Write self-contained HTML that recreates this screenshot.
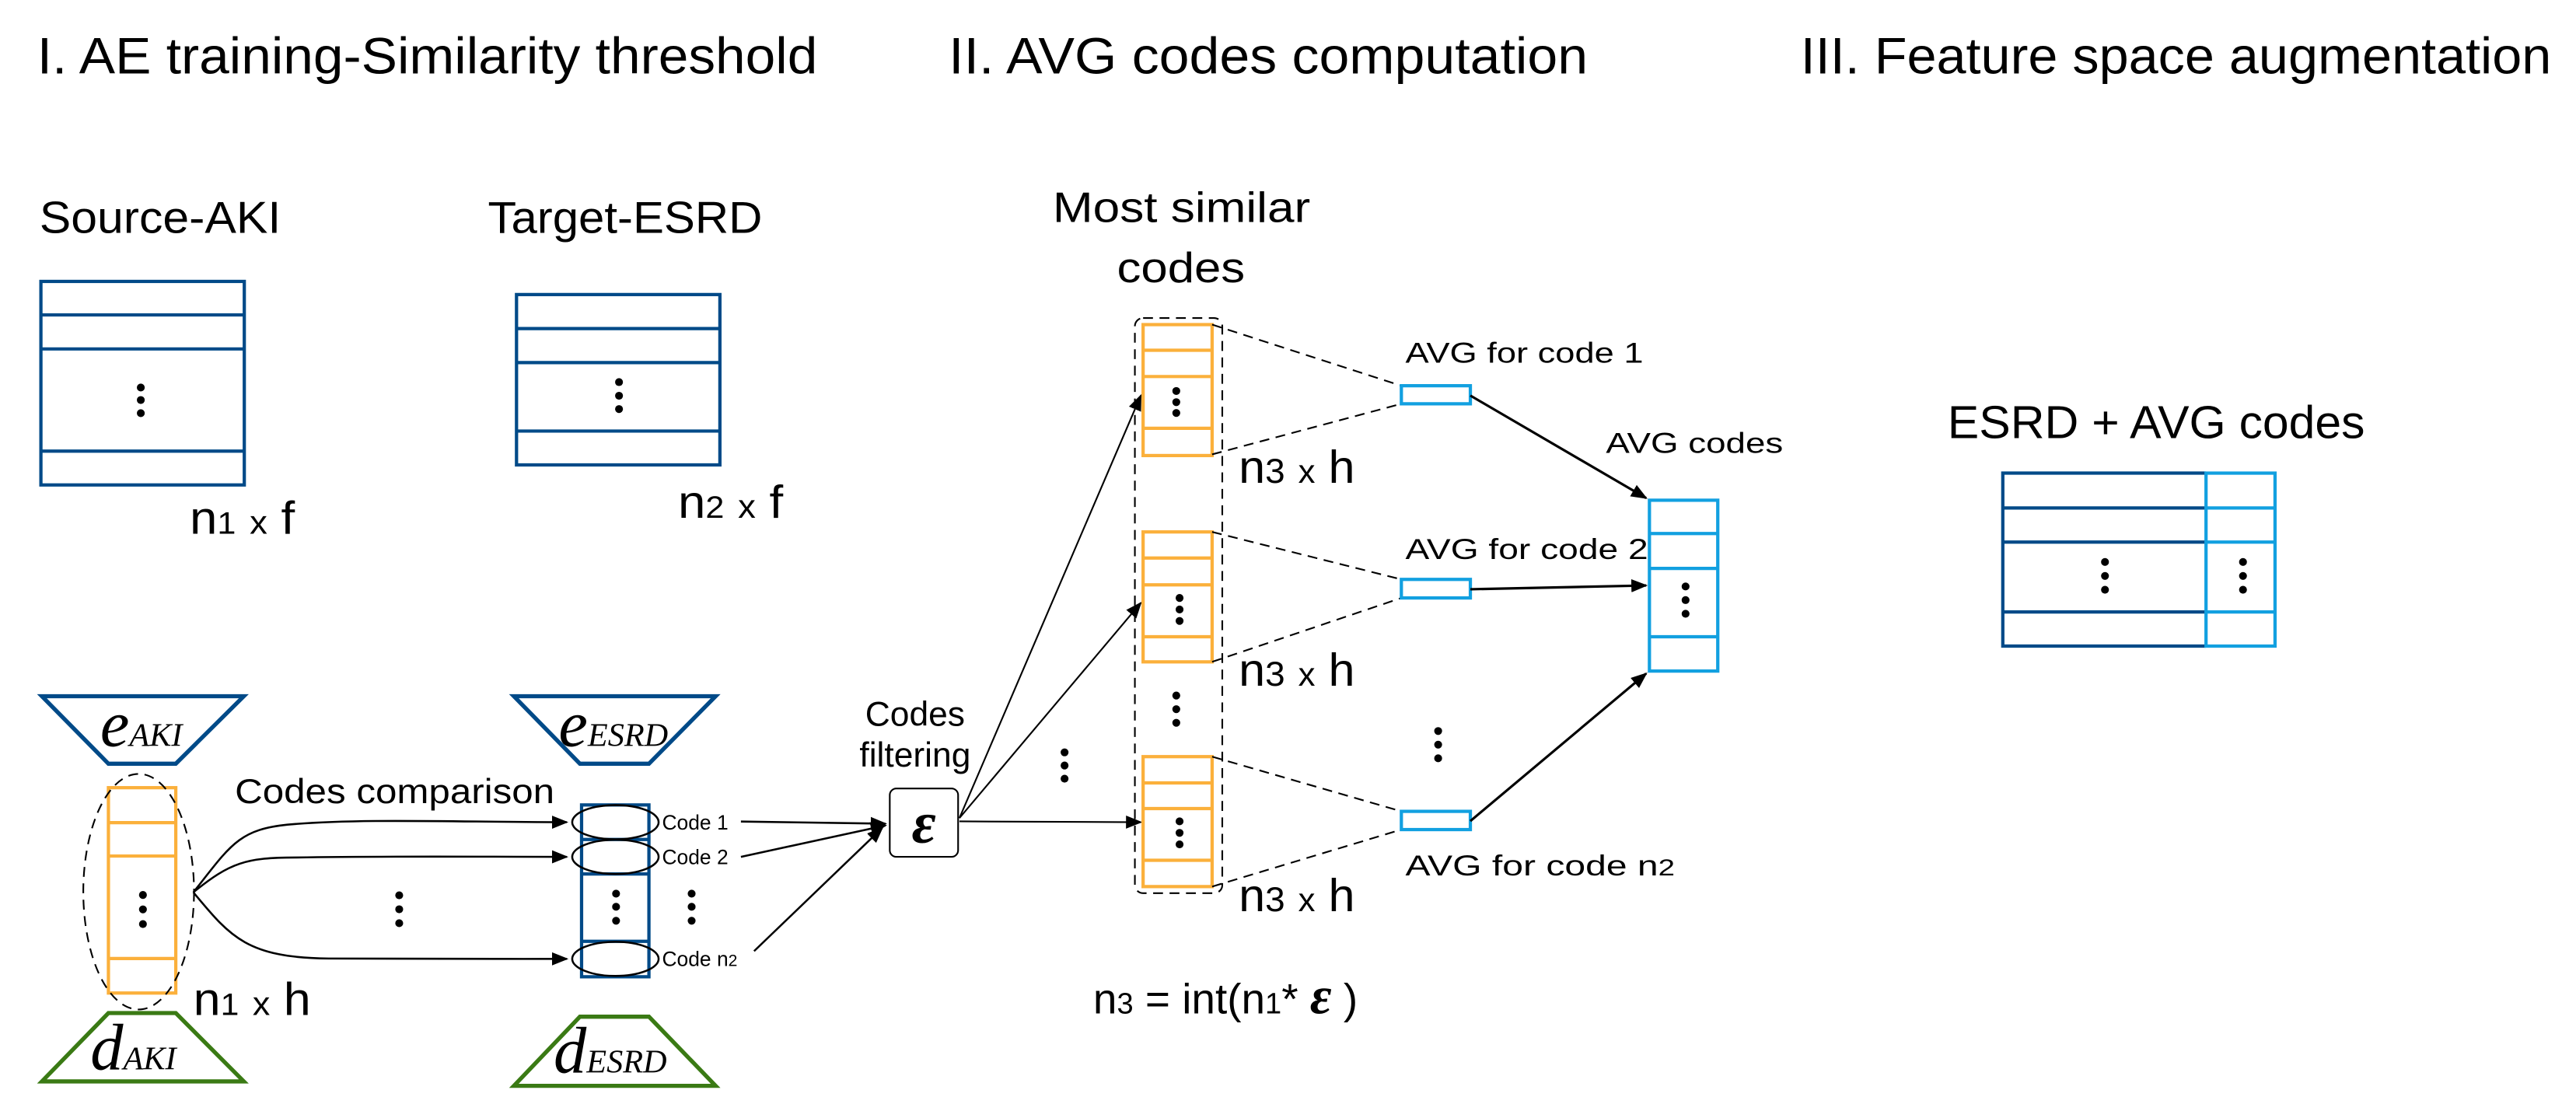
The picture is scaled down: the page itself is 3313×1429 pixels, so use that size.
<!DOCTYPE html>
<html><head><meta charset="utf-8"><style>html,body{margin:0;padding:0;background:#fff;}svg{display:block}</style></head>
<body>
<svg xmlns="http://www.w3.org/2000/svg" width="3313" height="1429" viewBox="0 0 1568 676.3" font-family="'Liberation Sans', sans-serif">
<defs>
<marker id="ah" markerWidth="10" markerHeight="8" refX="9" refY="4" orient="auto" markerUnits="userSpaceOnUse"><path d="M0,0 L10,4 L0,8 z" fill="#000"/></marker>
</defs>
<rect width="1568" height="676.3" fill="#fff"/>
<!-- titles -->
<text x="22.6" y="44.6" font-size="31" textLength="475" lengthAdjust="spacingAndGlyphs">I. AE training-Similarity threshold</text>
<text x="577.5" y="44.6" font-size="31" textLength="389" lengthAdjust="spacingAndGlyphs">II. AVG codes computation</text>
<text x="1096" y="44.6" font-size="31" textLength="457" lengthAdjust="spacingAndGlyphs">III. Feature space augmentation</text>

<text x="24" y="141.7" font-size="27" textLength="147" lengthAdjust="spacingAndGlyphs">Source-AKI</text>
<text x="297" y="141.7" font-size="27" textLength="167" lengthAdjust="spacingAndGlyphs">Target-ESRD</text>

<g fill="none" stroke="#004a88" stroke-width="2">
<rect x="24.9" y="171.3" width="123.8" height="123.9"/>
<line x1="24.9" y1="191.7" x2="148.7" y2="191.7"/><line x1="24.9" y1="212.4" x2="148.7" y2="212.4"/><line x1="24.9" y1="274.6" x2="148.7" y2="274.6"/>
<rect x="314.4" y="179.3" width="123.8" height="103.7"/>
<line x1="314.4" y1="200" x2="438.2" y2="200"/><line x1="314.4" y1="220.7" x2="438.2" y2="220.7"/><line x1="314.4" y1="262.4" x2="438.2" y2="262.4"/>
</g>
<g fill="#000">
<circle cx="85.7" cy="235.9" r="2.4"/><circle cx="85.7" cy="243.5" r="2.4"/><circle cx="85.7" cy="251.5" r="2.4"/>
<circle cx="376.8" cy="232.6" r="2.4"/><circle cx="376.8" cy="240.9" r="2.4"/><circle cx="376.8" cy="249" r="2.4"/>
</g>
<text x="115.5" y="325" font-size="28" textLength="64" lengthAdjust="spacingAndGlyphs">n<tspan font-size="19">1</tspan> <tspan font-size="20">x</tspan> f</text>
<text x="412.7" y="315.2" font-size="28" textLength="64" lengthAdjust="spacingAndGlyphs">n<tspan font-size="19">2</tspan> <tspan font-size="20">x</tspan> f</text>

<!-- encoders / decoders -->
<g fill="none" stroke-width="2.5">
<polygon points="25.5,423.8 148.4,423.8 107,464.9 66,464.9" stroke="#004a88"/>
<polygon points="312.8,423.8 435.6,423.8 395,464.9 353,464.9" stroke="#004a88"/>
<polygon points="66,616.7 107,616.7 148.4,658.3 25.5,658.3" stroke="#3a7a14"/>
<polygon points="353,618.9 395,618.9 435.6,661 312.8,661" stroke="#3a7a14"/>
</g>
<g font-family="'Liberation Serif', serif" font-style="italic">
<text x="61" y="454" font-size="40">e<tspan font-size="20">AKI</tspan></text>
<text x="340" y="454" font-size="40">e<tspan font-size="20">ESRD</tspan></text>
<text x="55" y="651" font-size="40">d<tspan font-size="20">AKI</tspan></text>
<text x="337" y="653" font-size="40">d<tspan font-size="20">ESRD</tspan></text>
</g>

<!-- AKI column -->
<g fill="none" stroke="#fbb03b" stroke-width="2">
<rect x="66" y="479.5" width="41" height="125"/>
<line x1="66" y1="500.8" x2="107" y2="500.8"/><line x1="66" y1="521.1" x2="107" y2="521.1"/><line x1="66" y1="583.5" x2="107" y2="583.5"/>
</g>
<ellipse cx="84.4" cy="542.8" rx="33.7" ry="71.7" fill="none" stroke="#000" stroke-width="1" stroke-dasharray="6,4"/>
<g fill="#000"><circle cx="87" cy="544.8" r="2.4"/><circle cx="87" cy="553.6" r="2.4"/><circle cx="87" cy="562.5" r="2.4"/></g>
<text x="117.7" y="617.8" font-size="28" textLength="71.5" lengthAdjust="spacingAndGlyphs">n<tspan font-size="19">1</tspan> <tspan font-size="20">x</tspan> h</text>
<text x="143" y="488.8" font-size="21" textLength="194.5" lengthAdjust="spacingAndGlyphs">Codes comparison</text>

<!-- ESRD column -->
<g fill="none" stroke="#004a88" stroke-width="2">
<rect x="354" y="490" width="41" height="104.6"/>
<line x1="354" y1="511" x2="395" y2="511"/><line x1="354" y1="532" x2="395" y2="532"/><line x1="354" y1="573" x2="395" y2="573"/>
</g>
<g fill="none" stroke="#000" stroke-width="1.2">
<ellipse cx="374.6" cy="500.5" rx="26.3" ry="10.4"/>
<ellipse cx="374.6" cy="521.6" rx="26.3" ry="10.4"/>
<ellipse cx="374.6" cy="583.7" rx="26.3" ry="10.4"/>
</g>
<g fill="#000">
<circle cx="375" cy="544" r="2.4"/><circle cx="375" cy="552" r="2.4"/><circle cx="375" cy="560.5" r="2.4"/>
<circle cx="421" cy="544" r="2.4"/><circle cx="421" cy="552" r="2.4"/><circle cx="421" cy="560.5" r="2.4"/>
<circle cx="243" cy="545" r="2.4"/><circle cx="243" cy="553.5" r="2.4"/><circle cx="243" cy="562" r="2.4"/>
</g>
<g fill="none" stroke="#000" stroke-width="1.2" marker-end="url(#ah)">
<path d="M117.7,543.2 C140,515 145,505 175,502 C220,498 280,500.5 345,500.5"/>
<path d="M117.7,543.2 C140,525 150,522 180,522 C240,521 290,521.6 345,521.6"/>
<path d="M117.7,543.2 C140,570 150,583 200,583.5 C260,584 300,583.7 345,583.7"/>
<line x1="451" y1="500.1" x2="539" y2="501.4"/>
<line x1="451" y1="521.6" x2="539" y2="502.5"/>
<line x1="459" y1="579" x2="537" y2="504"/>
</g>
<text x="403" y="505" font-size="12.5">Code 1</text>
<text x="403" y="526" font-size="12.5">Code 2</text>
<text x="403" y="588" font-size="12.5">Code n<tspan font-size="10">2</tspan></text>

<!-- epsilon -->
<rect x="541.6" y="480" width="41.6" height="41.6" rx="4" fill="#fff" stroke="#000" stroke-width="1"/>
<text x="562.4" y="513" font-size="36" text-anchor="middle" font-family="'Liberation Serif', serif" font-style="italic" font-weight="bold">ε</text>
<text x="557" y="441.9" font-size="21" text-anchor="middle">Codes</text>
<text x="557" y="466.7" font-size="21" text-anchor="middle">filtering</text>
<g fill="none" stroke="#000" stroke-width="1" marker-end="url(#ah)">
<line x1="584" y1="498" x2="694.4" y2="240.8"/>
<line x1="584" y1="498" x2="694.4" y2="367"/>
<line x1="584" y1="500" x2="694.4" y2="500.5"/>
</g>
<g fill="#000"><circle cx="648" cy="458" r="2.4"/><circle cx="648" cy="466" r="2.4"/><circle cx="648" cy="474" r="2.4"/></g>

<!-- most similar codes -->
<text x="640.8" y="135" font-size="26" textLength="156.8" lengthAdjust="spacingAndGlyphs">Most similar</text>
<text x="679.9" y="171.7" font-size="26" textLength="77.9" lengthAdjust="spacingAndGlyphs">codes</text>
<rect x="690.8" y="193.6" width="53.2" height="350.1" rx="5" fill="none" stroke="#000" stroke-width="1" stroke-dasharray="6,4"/>
<g fill="none" stroke="#fbb03b" stroke-width="2">
<rect x="695.8" y="197.6" width="42" height="79.7"/>
<line x1="695.8" y1="213.2" x2="737.8" y2="213.2"/><line x1="695.8" y1="229.2" x2="737.8" y2="229.2"/><line x1="695.8" y1="260.7" x2="737.8" y2="260.7"/>
<rect x="695.8" y="323.8" width="42" height="79.1"/>
<line x1="695.8" y1="339.7" x2="737.8" y2="339.7"/><line x1="695.8" y1="356" x2="737.8" y2="356"/><line x1="695.8" y1="387.6" x2="737.8" y2="387.6"/>
<rect x="695.8" y="460.6" width="42" height="79.1"/>
<line x1="695.8" y1="476.6" x2="737.8" y2="476.6"/><line x1="695.8" y1="492.2" x2="737.8" y2="492.2"/><line x1="695.8" y1="523.7" x2="737.8" y2="523.7"/>
</g>
<g fill="#000">
<circle cx="716" cy="238" r="2.4"/><circle cx="716" cy="244.8" r="2.4"/><circle cx="716" cy="251.4" r="2.4"/>
<circle cx="718" cy="364" r="2.4"/><circle cx="718" cy="371" r="2.4"/><circle cx="718" cy="378" r="2.4"/>
<circle cx="718" cy="500" r="2.4"/><circle cx="718" cy="507" r="2.4"/><circle cx="718" cy="514" r="2.4"/>
<circle cx="716" cy="423.4" r="2.4"/><circle cx="716" cy="431.7" r="2.4"/><circle cx="716" cy="440" r="2.4"/>
<circle cx="875.4" cy="445" r="2.4"/><circle cx="875.4" cy="453.3" r="2.4"/><circle cx="875.4" cy="461.6" r="2.4"/>
</g>
<g font-size="28">
<text x="754" y="294" textLength="70.7" lengthAdjust="spacingAndGlyphs">n<tspan font-size="21">3</tspan> <tspan font-size="20">x</tspan> h</text>
<text x="754" y="417.5" textLength="70.7" lengthAdjust="spacingAndGlyphs">n<tspan font-size="21">3</tspan> <tspan font-size="20">x</tspan> h</text>
<text x="754" y="554.6" textLength="70.7" lengthAdjust="spacingAndGlyphs">n<tspan font-size="21">3</tspan> <tspan font-size="20">x</tspan> h</text>
</g>
<g stroke="#000" stroke-width="1" stroke-dasharray="6,4" fill="none">
<line x1="737.8" y1="197.6" x2="853" y2="234.8"/><line x1="737.8" y1="276.6" x2="853" y2="245.8"/>
<line x1="737.8" y1="323.8" x2="853" y2="352.7"/><line x1="737.8" y1="402.9" x2="853" y2="364"/>
<line x1="737.8" y1="460.6" x2="853" y2="493.9"/><line x1="737.8" y1="539.7" x2="853" y2="505"/>
</g>
<g fill="#fff" stroke="#12a0e0" stroke-width="2">
<rect x="853" y="234.8" width="42" height="11"/>
<rect x="853" y="352.7" width="42" height="11.3"/>
<rect x="853" y="493.9" width="42" height="11.1"/>
</g>
<g font-size="17.5">
<text x="855.5" y="220.8" textLength="144.8" lengthAdjust="spacingAndGlyphs">AVG for code 1</text>
<text x="855.5" y="340.4" textLength="147.7" lengthAdjust="spacingAndGlyphs">AVG for code 2</text>
<text x="855.5" y="533" textLength="164" lengthAdjust="spacingAndGlyphs">AVG  for code n<tspan font-size="14">2</tspan></text>
<text x="977.5" y="275.7" textLength="107.9" lengthAdjust="spacingAndGlyphs">AVG codes</text>
</g>
<g fill="none" stroke="#000" stroke-width="1.5" marker-end="url(#ah)">
<line x1="895" y1="240.8" x2="1002" y2="303.2"/>
<line x1="895" y1="358.7" x2="1002" y2="356.4"/>
<line x1="895" y1="499.8" x2="1002" y2="410"/>
</g>
<g fill="none" stroke="#12a0e0" stroke-width="2">
<rect x="1004" y="304.5" width="41.6" height="104"/>
<line x1="1004" y1="324.8" x2="1045.6" y2="324.8"/><line x1="1004" y1="346" x2="1045.6" y2="346"/><line x1="1004" y1="387.6" x2="1045.6" y2="387.6"/>
</g>
<g fill="#000"><circle cx="1026" cy="357" r="2.4"/><circle cx="1026" cy="365.3" r="2.4"/><circle cx="1026" cy="373.6" r="2.4"/></g>

<text x="665.4" y="617" font-size="26">n<tspan font-size="18">3</tspan> = int(n<tspan font-size="18">1</tspan>* <tspan font-family="'Liberation Serif', serif" font-style="italic" font-weight="bold" font-size="32">ε</tspan> )</text>

<!-- part III -->
<text x="1185.5" y="266.7" font-size="28" textLength="254" lengthAdjust="spacingAndGlyphs">ESRD + AVG codes</text>
<g fill="none" stroke-width="2">
<g stroke="#004a88">
<polyline points="1342.8,288 1219.1,288 1219.1,393.3 1342.8,393.3"/>
<line x1="1219.1" y1="309.2" x2="1342.8" y2="309.2"/><line x1="1219.1" y1="330" x2="1342.8" y2="330"/><line x1="1219.1" y1="372.5" x2="1342.8" y2="372.5"/>
</g>
<g stroke="#12a0e0">
<rect x="1342.8" y="288" width="42" height="105.3"/>
<line x1="1342.8" y1="309.2" x2="1384.8" y2="309.2"/><line x1="1342.8" y1="330" x2="1384.8" y2="330"/><line x1="1342.8" y1="372.5" x2="1384.8" y2="372.5"/>
</g>
</g>
<g fill="#000">
<circle cx="1281.3" cy="342.1" r="2.4"/><circle cx="1281.3" cy="350.6" r="2.4"/><circle cx="1281.3" cy="359" r="2.4"/>
<circle cx="1365.3" cy="342.1" r="2.4"/><circle cx="1365.3" cy="350.6" r="2.4"/><circle cx="1365.3" cy="359" r="2.4"/>
</g>
</svg>
</body></html>
